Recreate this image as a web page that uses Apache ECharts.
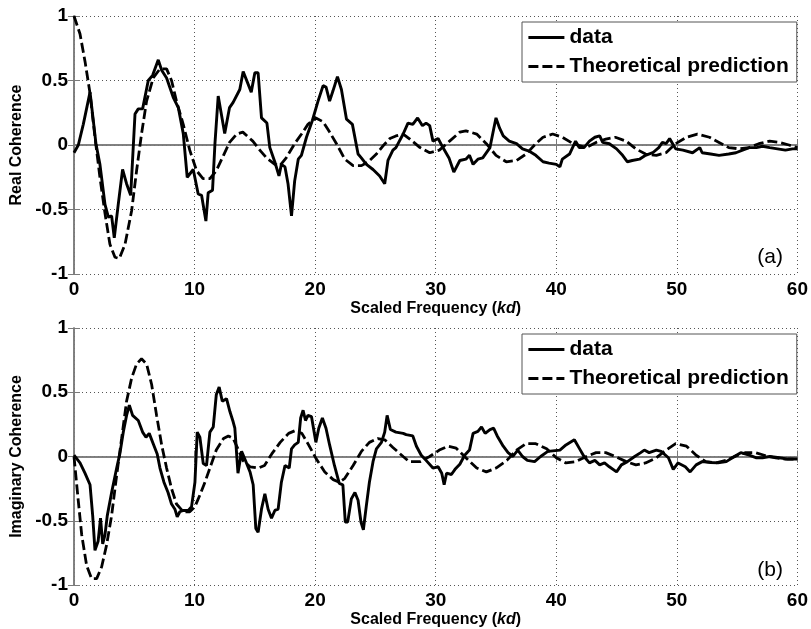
<!DOCTYPE html>
<html>
<head>
<meta charset="utf-8">
<script src="https://cdn.jsdelivr.net/npm/echarts@6/dist/echarts.min.js"></script>
<style>html,body{margin:0;padding:0;background:#fff;}#c{width:811px;height:629px;}</style>
</head>
<body>
<div id="c"></div>
<script>
// ---- Data ----
const seriesNames = ['data', 'Theoretical prediction'];
const panelLabels = ['(a)', '(b)'];
const yNames = ['Real Coherence', 'Imaginary Coherence'];

// (a) Real coherence, measured
const realDataX = [0,0.36,0.77,1.33,1.82,2.15,2.57,2.85,3.12,3.34,3.67,4.03,4.36,4.7,5.06,5.33,5.69,6.16,6.52,6.99,7.27,7.68,8.23,8.65,9.06,9.39,9.89,10.3,10.58,10.94,11.13,11.49,11.69,11.96,12.5,12.9,13.2,13.75,14.03,14.7,15.0,15.27,15.55,16.0,16.24,16.65,17.0,17.2,17.5,17.75,18.04,18.3,18.6,18.86,19.28,19.77,20.24,20.66,20.9,21.2,21.48,21.85,22.18,22.6,23.09,23.56,23.83,24.25,24.8,25.35,25.77,26.04,26.45,26.7,27.3,27.7,28.1,28.5,28.9,29.2,29.5,29.77,30.2,30.6,31.1,31.5,32.0,32.5,32.8,33.1,33.5,33.9,34.5,34.8,35.0,35.3,35.6,36.1,36.7,37.2,37.8,38.3,38.9,39.4,40.0,40.3,40.5,41.1,41.6,41.9,42.3,42.75,43.2,43.6,43.85,44.4,45.0,45.5,45.9,46.3,46.9,47.4,48.0,48.5,48.8,49.1,49.4,49.65,49.9,50.5,51.3,51.9,52.1,52.8,53.5,54.3,54.9,55.45,56.0,56.6,57.1,57.7,58.35,59.0,59.6,60];
const realDataY = [-0.06,0.0,0.16,0.41,0.01,-0.15,-0.46,-0.56,-0.55,-0.72,-0.46,-0.19,-0.30,-0.39,0.24,0.28,0.28,0.50,0.54,0.66,0.58,0.52,0.37,0.29,0.09,-0.25,-0.19,-0.38,-0.39,-0.59,-0.37,-0.35,0.01,0.38,0.09,0.29,0.33,0.43,0.57,0.41,0.56,0.56,0.21,0.17,-0.02,-0.13,-0.24,-0.15,-0.17,-0.30,-0.55,-0.28,-0.11,-0.08,0.06,0.19,0.34,0.46,0.45,0.34,0.42,0.53,0.43,0.20,0.16,-0.07,-0.10,-0.15,-0.19,-0.24,-0.30,-0.12,-0.04,-0.02,0.085,0.17,0.16,0.21,0.15,0.17,0.15,0.03,0.05,-0.02,-0.10,-0.21,-0.12,-0.11,-0.08,-0.15,-0.11,-0.10,-0.02,0.12,0.21,0.13,0.07,0.03,0.01,-0.03,-0.05,-0.08,-0.13,-0.14,-0.15,-0.17,-0.11,-0.07,0.03,-0.02,-0.02,0.03,0.06,0.07,0.02,0.01,-0.03,-0.08,-0.13,-0.12,-0.11,-0.08,-0.06,-0.02,0.02,0.01,0.05,0.01,-0.03,-0.04,-0.06,-0.02,-0.06,-0.07,-0.08,-0.07,-0.06,-0.04,-0.02,-0.02,-0.01,-0.02,-0.03,-0.04,-0.03,-0.03];

// (a) Real coherence, theoretical
const realTheoryX = [0,0.5,0.91,1.33,1.74,2.15,2.57,2.98,3.4,3.76,4.23,4.78,5.19,5.6,6.02,6.57,7.13,7.68,8.09,8.5,9.06,9.6,10.17,10.7,11.27,11.8,12.4,12.9,13.5,14.0,14.83,15.5,15.97,16.66,17.07,17.6,18.3,18.87,19.4,20.06,20.66,21.2,21.77,22.46,23.15,23.84,24.4,25.08,25.6,26.2,26.7,27.3,27.8,28.7,29.5,30.3,31.15,32.0,32.5,33.4,34.2,35.0,35.85,36.7,37.5,38.3,38.9,39.7,40.5,41.4,42.5,43.3,44.1,44.9,45.8,46.6,47.4,48.3,49.1,49.9,50.8,51.7,52.7,53.5,54.3,55.2,56.0,56.8,57.7,58.5,59.3,60];
const realTheoryY = [1.0,0.86,0.65,0.40,0.06,-0.25,-0.53,-0.77,-0.87,-0.88,-0.77,-0.51,-0.20,0.085,0.34,0.52,0.59,0.59,0.50,0.34,0.16,-0.04,-0.20,-0.26,-0.26,-0.20,-0.08,0.02,0.085,0.10,0.03,-0.05,-0.10,-0.15,-0.16,-0.10,0.01,0.085,0.16,0.21,0.18,0.10,0.01,-0.11,-0.16,-0.16,-0.13,-0.07,-0.01,0.05,0.07,0.085,0.05,-0.02,-0.06,-0.04,0.03,0.10,0.11,0.085,0.01,-0.08,-0.13,-0.12,-0.07,0.01,0.06,0.085,0.06,0.01,-0.02,0.02,0.046,0.06,0.03,-0.03,-0.07,-0.08,-0.06,0.01,0.06,0.085,0.06,0.02,-0.02,-0.03,-0.02,0.01,0.03,0.02,0.0,-0.02];

// (b) Imaginary coherence, measured
const imagDataX = [0,0.5,0.91,1.33,1.55,1.74,2.0,2.2,2.38,2.57,2.76,3.12,3.54,3.8,4.09,4.36,4.59,4.86,5.33,5.69,5.97,6.24,6.57,6.9,7.13,7.46,7.8,8.09,8.37,8.56,8.78,9.06,9.48,9.75,10.03,10.22,10.44,10.72,10.99,11.27,11.55,11.8,12.04,12.3,12.65,12.93,13.2,13.34,13.6,13.9,14.17,14.6,14.86,15.08,15.27,15.55,15.83,16.1,16.38,16.66,16.93,17.2,17.5,17.85,18.04,18.3,18.6,18.8,19.0,19.2,19.4,19.7,20.06,20.3,20.6,20.9,21.2,21.6,22.0,22.3,22.5,22.7,23.0,23.3,23.56,23.8,24.0,24.25,24.5,24.8,25.08,25.5,25.77,25.97,26.24,26.7,27.3,27.55,28.1,28.4,28.8,29.2,29.77,30.2,30.5,30.7,30.9,31.3,31.6,32.0,32.4,32.8,33.1,33.5,33.8,34.1,34.5,34.8,35.1,35.6,36.0,36.4,36.8,37.2,37.6,38.2,38.7,39.3,40.3,40.8,41.5,41.9,42.3,42.75,43.2,43.6,44.0,44.4,45.0,45.4,45.9,46.5,47.0,47.3,47.7,48.3,48.7,49.3,49.7,50.1,50.7,51.1,51.6,52.1,52.8,53.4,54.1,54.6,55.3,56.0,56.6,57.1,57.7,58.5,59.2,60];
const imagDataY = [0.01,-0.05,-0.13,-0.22,-0.46,-0.73,-0.66,-0.48,-0.68,-0.61,-0.46,-0.28,-0.09,0.02,0.19,0.32,0.40,0.32,0.28,0.19,0.15,0.18,0.10,0.02,-0.09,-0.20,-0.28,-0.37,-0.41,-0.47,-0.43,-0.42,-0.42,-0.39,-0.20,0.19,0.15,-0.055,-0.07,0.19,0.23,0.48,0.54,0.43,0.45,0.35,0.27,0.22,-0.13,0.04,-0.02,-0.12,-0.22,-0.56,-0.59,-0.41,-0.29,-0.41,-0.48,-0.42,-0.41,-0.20,-0.07,-0.09,0.06,0.09,0.11,0.30,0.36,0.28,0.32,0.31,0.11,0.22,0.30,0.22,0.09,-0.07,-0.21,-0.22,-0.51,-0.51,-0.33,-0.28,-0.34,-0.51,-0.57,-0.38,-0.20,-0.04,0.06,0.11,0.19,0.32,0.21,0.19,0.18,0.17,0.16,0.08,0.01,-0.03,-0.09,-0.08,-0.13,-0.22,-0.13,-0.14,-0.10,-0.06,0.01,0.05,0.18,0.195,0.23,0.18,0.21,0.22,0.16,0.08,0.03,0.0,0.05,0.0,-0.03,-0.04,0.0,0.04,0.05,0.09,0.13,0.065,0.0,-0.05,-0.03,-0.065,-0.05,-0.08,-0.12,-0.065,-0.04,0.0,0.03,0.05,0.03,0.05,0.04,-0.01,-0.10,-0.05,-0.08,-0.12,-0.065,-0.04,-0.047,-0.05,-0.04,-0.01,0.03,0.01,-0.01,-0.01,0.0,-0.01,-0.02,-0.02];

// (b) Imaginary coherence, theoretical
const imagTheoryX = [0,0.36,0.64,1.05,1.46,1.88,2.29,2.7,3.12,3.54,3.95,4.36,4.78,5.19,5.6,6.02,6.44,6.85,7.27,7.68,8.09,8.5,9.06,9.6,10.03,10.44,10.86,11.27,11.8,12.4,12.8,13.2,13.6,14.0,14.6,15.3,15.8,16.4,17.1,17.8,18.3,18.9,19.4,20.1,20.8,21.5,22.0,22.46,23.15,23.84,24.5,25.2,25.77,26.45,27.3,27.8,28.7,29.5,30.3,31.0,31.7,32.5,33.4,34.2,35.0,35.9,36.7,37.5,38.3,39.2,40.0,40.8,41.6,42.5,43.3,44.1,44.9,45.8,46.6,47.4,48.3,49.1,49.9,50.8,51.6,52.4,53.2,54.1,54.9,55.7,56.5,57.4,58.2,59.0,60];
const imagTheoryY = [0.0,-0.35,-0.61,-0.85,-0.95,-0.95,-0.86,-0.69,-0.46,-0.145,0.14,0.43,0.61,0.72,0.76,0.72,0.56,0.32,0.09,-0.09,-0.25,-0.37,-0.43,-0.43,-0.39,-0.30,-0.20,-0.09,0.05,0.14,0.16,0.14,0.06,-0.03,-0.08,-0.09,-0.07,0.02,0.11,0.18,0.20,0.18,0.10,-0.02,-0.12,-0.18,-0.20,-0.17,-0.07,0.04,0.11,0.14,0.13,0.07,0.0,-0.04,-0.04,0.0,0.05,0.08,0.065,-0.01,-0.09,-0.12,-0.09,-0.03,0.05,0.10,0.10,0.06,-0.01,-0.05,-0.04,0.0,0.03,0.03,0.0,-0.04,-0.065,-0.05,-0.01,0.05,0.10,0.08,0.01,-0.04,-0.05,-0.03,0.005,0.03,0.03,0.005,-0.01,-0.02,-0.02];

// ---- Build chart ----
const zip = (xs, ys) => xs.map((x, i) => [x, ys[i]]);
const FONT = 'Liberation Sans, Arial, sans-serif';
const frameColor = '#7a7a7a';
const gridLine = { show: true, lineStyle: { color: '#555', type: [1, 3], width: 1 } };

const grids = [
  { left: 74, right: 13, top: 16, height: 258 },
  { left: 74, right: 13, top: 328, height: 257 }
];

const xAxes = [], yAxes = [];
grids.forEach((g, i) => {
  xAxes.push({
    type: 'value', gridIndex: i, min: 0, max: 60, interval: 10, position: 'bottom',
    name: '{b|Scaled Frequency (}{i|kd}{b|)}', nameLocation: 'middle', nameGap: 27,
    nameTextStyle: { rich: {
      b: { fontFamily: FONT, fontWeight: 'bold', fontSize: 16, color: '#000' },
      i: { fontFamily: FONT, fontWeight: 'bold', fontStyle: 'italic', fontSize: 16, color: '#000' } } },
    axisLine: { show: true, lineStyle: { color: frameColor, width: 1.5 } },
    axisTick: { show: true, inside: true, length: 6, lineStyle: { color: frameColor } },
    axisLabel: { fontFamily: FONT, fontWeight: 'bold', fontSize: 19, color: '#000', margin: 6 },
    splitLine: gridLine
  });
  xAxes.push({
    type: 'value', gridIndex: i, min: 0, max: 60, interval: 10, position: 'top',
    axisLine: { show: true, lineStyle: { color: frameColor, width: 1.5 } },
    axisTick: { show: true, inside: true, length: 6, lineStyle: { color: frameColor } },
    axisLabel: { show: false }, splitLine: { show: false }
  });
  yAxes.push({
    type: 'value', gridIndex: i, min: -1, max: 1, interval: 0.5, position: 'left',
    name: yNames[i], nameLocation: 'middle', nameGap: 48,
    nameTextStyle: { fontFamily: FONT, fontWeight: 'bold', fontSize: 16, color: '#000' },
    axisLine: { show: true, lineStyle: { color: frameColor, width: 1.5 } },
    axisTick: { show: true, inside: true, length: 6, lineStyle: { color: frameColor } },
    axisLabel: { fontFamily: FONT, fontWeight: 'bold', fontSize: 19, color: '#000', margin: 6 },
    splitLine: gridLine
  });
  yAxes.push({
    type: 'value', gridIndex: i, min: -1, max: 1, interval: 0.5, position: 'right',
    axisLine: { show: true, lineStyle: { color: frameColor, width: 1.5 } },
    axisTick: { show: true, inside: true, length: 6, lineStyle: { color: frameColor } },
    axisLabel: { show: false }, splitLine: { show: false }
  });
});

const solid = { color: '#000', width: 2.9, type: 'solid' };
const dashed = { color: '#000', width: 2.8, type: [10, 4] };
const mk = (name, xi, yi, data, ls) => ({
  name, type: 'line', xAxisIndex: xi, yAxisIndex: yi, data, symbol: 'none',
  showSymbol: false, lineStyle: ls, itemStyle: { color: '#000' }, animation: false, z: ls === solid ? 3 : 2
});

const series = [
  mk(seriesNames[0], 0, 0, zip(realDataX, realDataY), solid),
  mk(seriesNames[1], 0, 0, zip(realTheoryX, realTheoryY), dashed),
  mk(seriesNames[0], 2, 2, zip(imagDataX, imagDataY), solid),
  mk(seriesNames[1], 2, 2, zip(imagTheoryX, imagTheoryY), dashed)
];

const legendBase = {
  orient: 'vertical', left: 522, itemWidth: 36, itemHeight: 14, itemGap: 8,
  backgroundColor: '#fff', borderColor: '#555', borderWidth: 1, padding: [5, 8, 5, 5],
  itemStyle: { opacity: 0 },
  lineStyle: { width: 2.8 },
  textStyle: { fontFamily: FONT, fontWeight: 'bold', fontSize: 21, color: '#000' },
  data: seriesNames, selectedMode: false
};

const option = {
  backgroundColor: '#fff',
  animation: false,
  grid: grids,
  xAxis: xAxes,
  yAxis: yAxes,
  legend: [
    Object.assign({}, legendBase, { top: 22 }),
    Object.assign({}, legendBase, { top: 334 })
  ],
  title: [
    { text: panelLabels[0], right: 23, top: 242, textStyle: { fontFamily: FONT, fontWeight: 'normal', fontSize: 21, color: '#000' } },
    { text: panelLabels[1], right: 23, top: 555, textStyle: { fontFamily: FONT, fontWeight: 'normal', fontSize: 21, color: '#000' } }
  ],
  series
};

const chart = echarts.init(document.getElementById('c'), null, { renderer: 'canvas' });
chart.setOption(option);
</script>
</body>
</html>
